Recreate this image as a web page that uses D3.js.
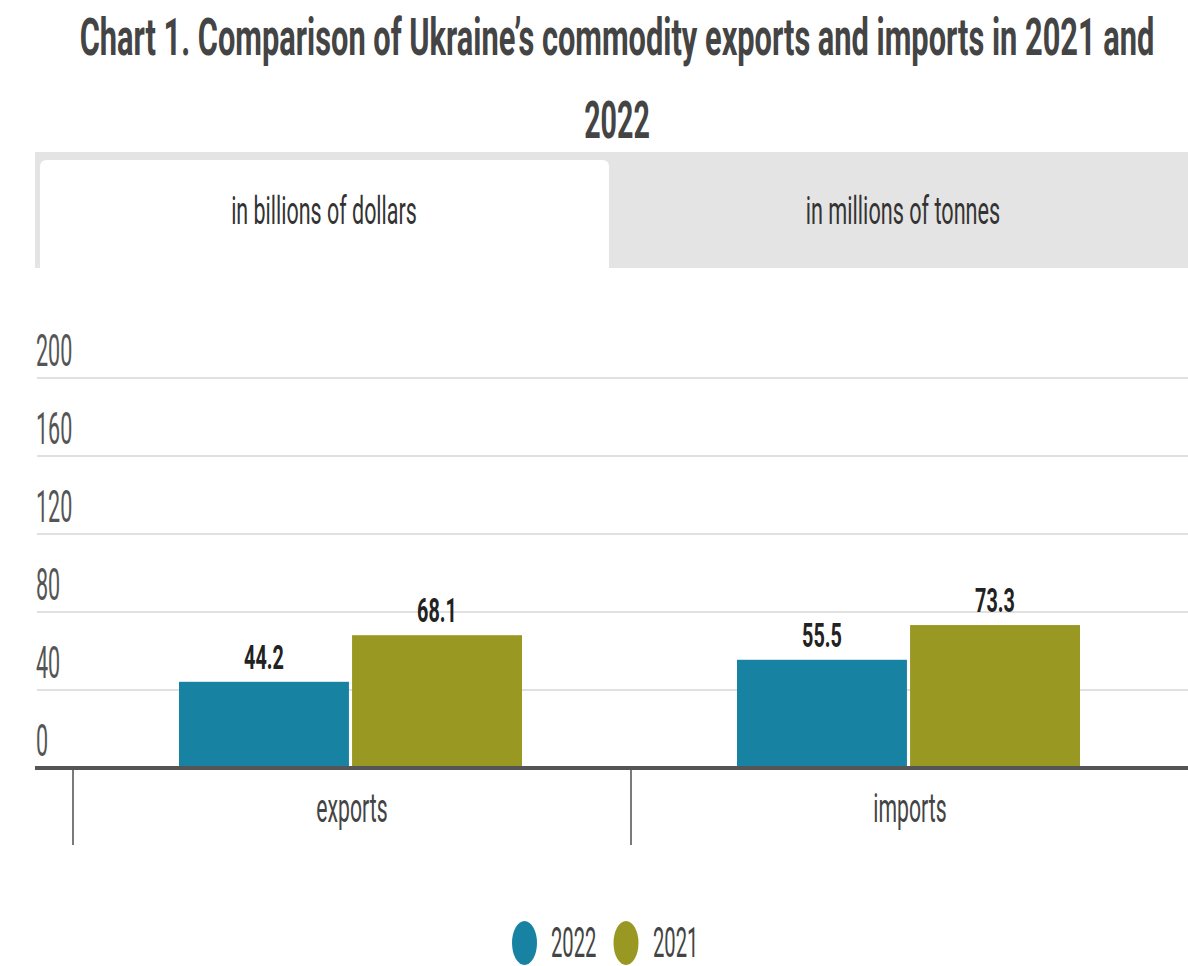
<!DOCTYPE html>
<html>
<head>
<meta charset="utf-8">
<script src="https://cdn.jsdelivr.net/npm/d3@7"></script>
<style>
  html, body { margin: 0; padding: 0; background: #fff; }
  svg { display: block; font-family: Roboto, "Noto Sans", sans-serif; }
</style>
</head>
<body>
<svg id="chart" width="1188" height="966"></svg>
<script>
// Chart data
const titleLines = ["Chart 1. Comparison of Ukraine\u2019s commodity exports and imports in 2021 and", "2022"];
const tabLabels = ["in billions of dollars", "in millions of tonnes"];
const categories = ["exports", "imports"];
const seriesNames = ["2022", "2021"];
const values2022 = [44.2, 55.5];
const values2021 = [68.1, 73.3];
const yTickValues = [0, 40, 80, 120, 160, 200];
const seriesColors = ["#1882a3", "#999823"];

const W = 1188, H = 966;
const svg = d3.select("#chart");

// Narrow-set text: every label is drawn horizontally compressed
function label(parent, x, y, text, o) {
  return parent.append("text")
    .attr("transform", `translate(${x},${y}) scale(${o.sx},1)`)
    .attr("text-anchor", o.anchor || "start")
    .attr("font-size", o.size)
    .attr("font-weight", o.weight || 400)
    .attr("fill", o.color || "#444")
    .text(text);
}

// Title
label(svg, 617, 55, titleLines[0], { sx: 0.592, size: 52, weight: 700, anchor: "middle", color: "#444" });
label(svg, 617, 138, titleLines[1], { sx: 0.55, size: 52, weight: 700, anchor: "middle", color: "#444" });

// Tabs
svg.append("rect").attr("x", 35).attr("y", 152).attr("width", W - 35).attr("height", 116).attr("fill", "#e4e4e4");
const tabX0 = 40, tabX1 = 609, tabTop = 160, tabBottom = 268, r = 7;
svg.append("path")
  .attr("d", `M${tabX0},${tabBottom} V${tabTop + r} Q${tabX0},${tabTop} ${tabX0 + r},${tabTop} H${tabX1 - r} Q${tabX1},${tabTop} ${tabX1},${tabTop + r} V${tabBottom} Z`)
  .attr("fill", "#fff");
label(svg, 324, 224, tabLabels[0], { sx: 0.565, size: 38, anchor: "middle", color: "#333" });
label(svg, 903, 224, tabLabels[1], { sx: 0.57, size: 38, anchor: "middle", color: "#333" });

// Scales
const y = d3.scaleLinear().domain([0, 200]).range([768, 378]);
const x = d3.scaleBand().domain(categories).range([73, 1189]).paddingInner(0).paddingOuter(0);
const xInner = d3.scaleBand().domain(seriesNames).range([106, 449]).paddingInner(0.018);
const color = d3.scaleOrdinal().domain(seriesNames).range(seriesColors);

// Gridlines and y tick labels
const grid = svg.append("g");
grid.selectAll("line").data(yTickValues.filter(d => d > 0)).join("line")
  .attr("x1", 37).attr("x2", W)
  .attr("y1", d => y(d)).attr("y2", d => y(d))
  .attr("stroke", "#e0e0e0").attr("stroke-width", 2);
yTickValues.forEach(v => label(svg, 36, y(v) - 12, String(v), { sx: 0.49, size: 44, color: "#555" }));

// Bars
const rows = categories.map((c, i) => ({ category: c, values: [values2022[i], values2021[i]] }));
const groups = svg.append("g").selectAll("g").data(rows).join("g")
  .attr("transform", d => `translate(${x(d.category)},0)`);
groups.selectAll("rect").data(d => seriesNames.map((s, j) => ({ series: s, value: d.values[j] }))).join("rect")
  .attr("x", d => xInner(d.series))
  .attr("width", xInner.bandwidth())
  .attr("y", d => y(d.value))
  .attr("height", d => y(0) - y(d.value))
  .attr("fill", d => color(d.series));
groups.each(function (d) {
  const g = d3.select(this);
  seriesNames.forEach((s, j) => {
    label(g, xInner(s) + xInner.bandwidth() / 2, y(d.values[j]) - 13, String(d.values[j]),
      { sx: 0.6, size: 33, weight: 700, anchor: "middle", color: "#222" });
  });
});

// Baseline and category axis
svg.append("line").attr("x1", 35).attr("x2", W).attr("y1", y(0)).attr("y2", y(0))
  .attr("stroke", "#555").attr("stroke-width", 4);
const edges = [...categories.map(c => x(c)), x(categories[categories.length - 1]) + x.bandwidth()];
svg.append("g").selectAll("line").data(edges).join("line")
  .attr("x1", d => d).attr("x2", d => d)
  .attr("y1", y(0) + 2).attr("y2", 845)
  .attr("stroke", "#333").attr("stroke-width", 1.3);
categories.forEach(c => label(svg, x(c) + x.bandwidth() / 2, 822, c, { sx: 0.53, size: 40, anchor: "middle", color: "#444" }));

// Legend
const legend = svg.append("g");
const legendItems = [{ name: seriesNames[0], cx: 524.5, tx: 551 }, { name: seriesNames[1], cx: 626, tx: 653 }];
legendItems.forEach(it => {
  legend.append("ellipse").attr("cx", it.cx).attr("cy", 943).attr("rx", 12.5).attr("ry", 22).attr("fill", color(it.name));
  label(legend, it.tx, 957, it.name, { sx: 0.47, size: 43, color: "#444" });
});
</script>
</body>
</html>
